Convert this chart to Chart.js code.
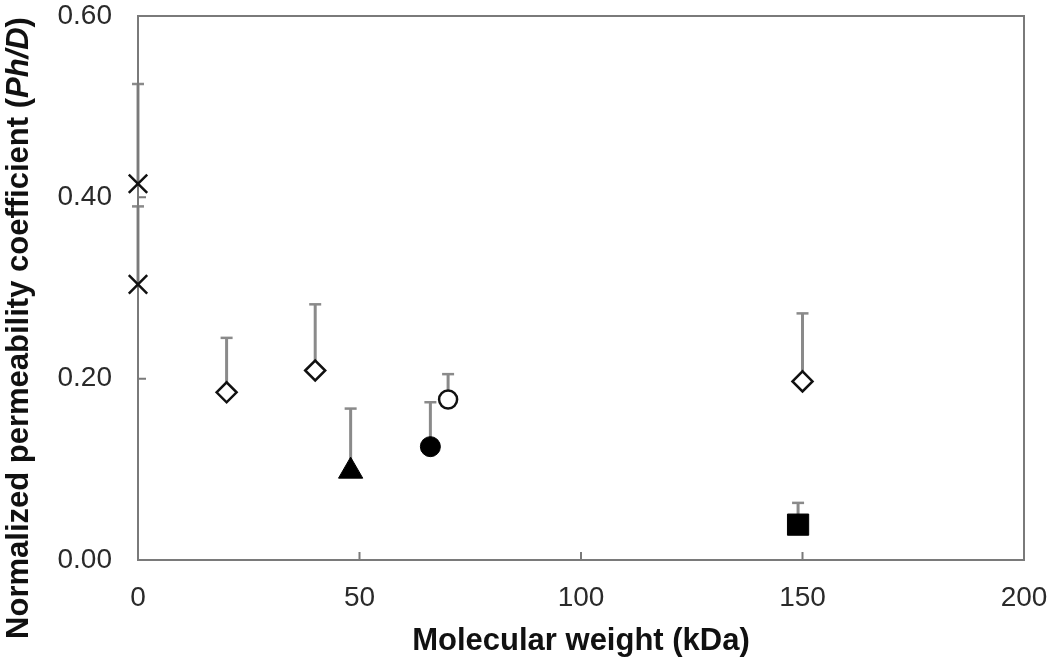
<!DOCTYPE html>
<html lang="en">
<head>
    <meta charset="UTF-8">
    <title>Permeability vs molecular weight</title>
    <script src="https://cdn.jsdelivr.net/npm/chart.js"></script>
    <style>
        body { margin: 0; background: #fff; }
        #wrap { width: 1050px; height: 665px; }
    </style>
</head>
<body>
    <div id="wrap"><canvas id="permChart"></canvas></div>
    <script>
        // values: x = molecular weight (kDa), y = Ph/D, err = upper error
        const crossX = [0, 0];
        const crossY = [0.415, 0.304];
        const crossErr = [0.11, 0.086];

        const diamondX = [20, 40, 150];
        const diamondY = [0.185, 0.209, 0.197];
        const diamondErr = [0.06, 0.073, 0.075];

        const triangleX = [48];
        const triangleY = [0.098];
        const triangleErr = [0.069];

        const dotX = [66];
        const dotY = [0.125];
        const dotErr = [0.049];

        const ringX = [70];
        const ringY = [0.177];
        const ringErr = [0.028];

        const squareX = [149];
        const squareY = [0.039];
        const squareErr = [0.024];

        const xTicks = [0, 50, 100, 150, 200];
        const yTicks = [0, 0.2, 0.4, 0.6];

        const FONT = '"Liberation Sans", Arial, sans-serif';
        const pts = (xs, ys, es) => xs.map((x, i) => ({ x: x, y: ys[i], err: es[i] }));

        // upward error bars, drawn behind the markers
        const errorBars = {
            id: 'errorBars',
            beforeDatasetsDraw(chart) {
                const ctx = chart.ctx, xs = chart.scales.x, ys = chart.scales.y;
                ctx.save();
                ctx.strokeStyle = '#8a8a8a';
                chart.data.datasets.forEach(ds => {
                    ds.data.forEach(p => {
                        const px = xs.getPixelForValue(p.x);
                        const py = ys.getPixelForValue(p.y);
                        const top = ys.getPixelForValue(p.y + p.err);
                        ctx.lineWidth = 3;
                        ctx.beginPath();
                        ctx.moveTo(px, py);
                        ctx.lineTo(px, top);
                        ctx.stroke();
                        ctx.lineWidth = 2.5;
                        ctx.beginPath();
                        ctx.moveTo(px - 6, top);
                        ctx.lineTo(px + 6, top);
                        ctx.stroke();
                    });
                });
                ctx.restore();
            }
        };

        // box frame, inward ticks and the y title with italic Ph/D
        const frame = {
            id: 'frame',
            beforeDatasetsDraw(chart) {
                const ctx = chart.ctx, a = chart.chartArea;
                const xs = chart.scales.x, ys = chart.scales.y;
                ctx.save();
                ctx.strokeStyle = '#7a7a7a';
                ctx.lineWidth = 2;
                ctx.strokeRect(a.left, a.top, a.right - a.left, a.bottom - a.top);
                ctx.beginPath();
                xTicks.forEach(v => {
                    const px = xs.getPixelForValue(v);
                    ctx.moveTo(px, a.bottom);
                    ctx.lineTo(px, a.bottom - 8);
                });
                yTicks.forEach(v => {
                    const py = ys.getPixelForValue(v);
                    ctx.moveTo(a.left, py);
                    ctx.lineTo(a.left + 8, py);
                });
                ctx.stroke();
                ctx.restore();
            },
            afterDraw(chart) {
                const ctx = chart.ctx;
                const parts = [
                    ['Normalized permeability coefficient (', 'bold 31px ' + FONT],
                    ['Ph/D', 'italic bold 31px ' + FONT],
                    [')', 'bold 31px ' + FONT]
                ];
                ctx.save();
                let total = 0;
                parts.forEach(p => { ctx.font = p[1]; total += ctx.measureText(p[0]).width; });
                ctx.translate(28, 328);
                ctx.rotate(-Math.PI / 2);
                ctx.fillStyle = '#111';
                ctx.textBaseline = 'alphabetic';
                let cx = -total / 2;
                parts.forEach(p => {
                    ctx.font = p[1];
                    ctx.fillText(p[0], cx, 0);
                    cx += ctx.measureText(p[0]).width;
                });
                ctx.restore();
            }
        };

        new Chart(document.getElementById('permChart'), {
            type: 'scatter',
            data: {
                datasets: [
                    { data: pts(crossX, crossY, crossErr), pointStyle: 'crossRot', radius: 13, clip: false,
                      borderColor: '#111', borderWidth: 2.5, backgroundColor: '#111' },
                    { data: pts(diamondX, diamondY, diamondErr), pointStyle: 'rectRot', radius: 10, clip: false,
                      borderColor: '#111', borderWidth: 2.5, backgroundColor: '#fff' },
                    { data: pts(triangleX, triangleY, triangleErr), pointStyle: 'triangle', radius: 14, clip: false,
                      borderColor: '#000', borderWidth: 1, backgroundColor: '#000' },
                    { data: pts(dotX, dotY, dotErr), pointStyle: 'circle', radius: 10, clip: false,
                      borderColor: '#000', borderWidth: 1, backgroundColor: '#000' },
                    { data: pts(ringX, ringY, ringErr), pointStyle: 'circle', radius: 9, clip: false,
                      borderColor: '#111', borderWidth: 2.5, backgroundColor: '#fff' },
                    { data: pts(squareX, squareY, squareErr), pointStyle: 'rect', radius: 15, clip: false,
                      borderColor: '#000', borderWidth: 1, backgroundColor: '#000' }
                ]
            },
            options: {
                responsive: true,
                maintainAspectRatio: false,
                animation: false,
                layout: { padding: { top: 13, right: 26, left: 0, bottom: 0 } },
                plugins: { legend: { display: false }, tooltip: { enabled: false } },
                scales: {
                    x: {
                        type: 'linear', min: 0, max: 200,
                        afterBuildTicks: s => { s.ticks = xTicks.map(v => ({ value: v })); },
                        afterFit: s => { s.height = 105; s.paddingLeft = 0; s.paddingRight = 0; },
                        grid: { display: false },
                        border: { display: false },
                        ticks: { color: '#2a2a2a', padding: 13, maxRotation: 0,
                                 font: { family: FONT, size: 28 } },
                        title: { display: true, text: 'Molecular weight (kDa)', color: '#111',
                                 padding: { top: 0, bottom: 5 },
                                 font: { family: FONT, size: 31, weight: 'bold' } }
                    },
                    y: {
                        type: 'linear', min: 0, max: 0.6,
                        afterBuildTicks: s => { s.ticks = yTicks.map(v => ({ value: v })); },
                        afterFit: s => { s.width = 138; s.paddingTop = 0; s.paddingBottom = 0; },
                        grid: { display: false },
                        border: { display: false },
                        ticks: { color: '#2a2a2a', padding: 18, callback: v => v.toFixed(2),
                                 font: { family: FONT, size: 28 } }
                    }
                }
            },
            plugins: [errorBars, frame]
        });
    </script>
</body>
</html>
